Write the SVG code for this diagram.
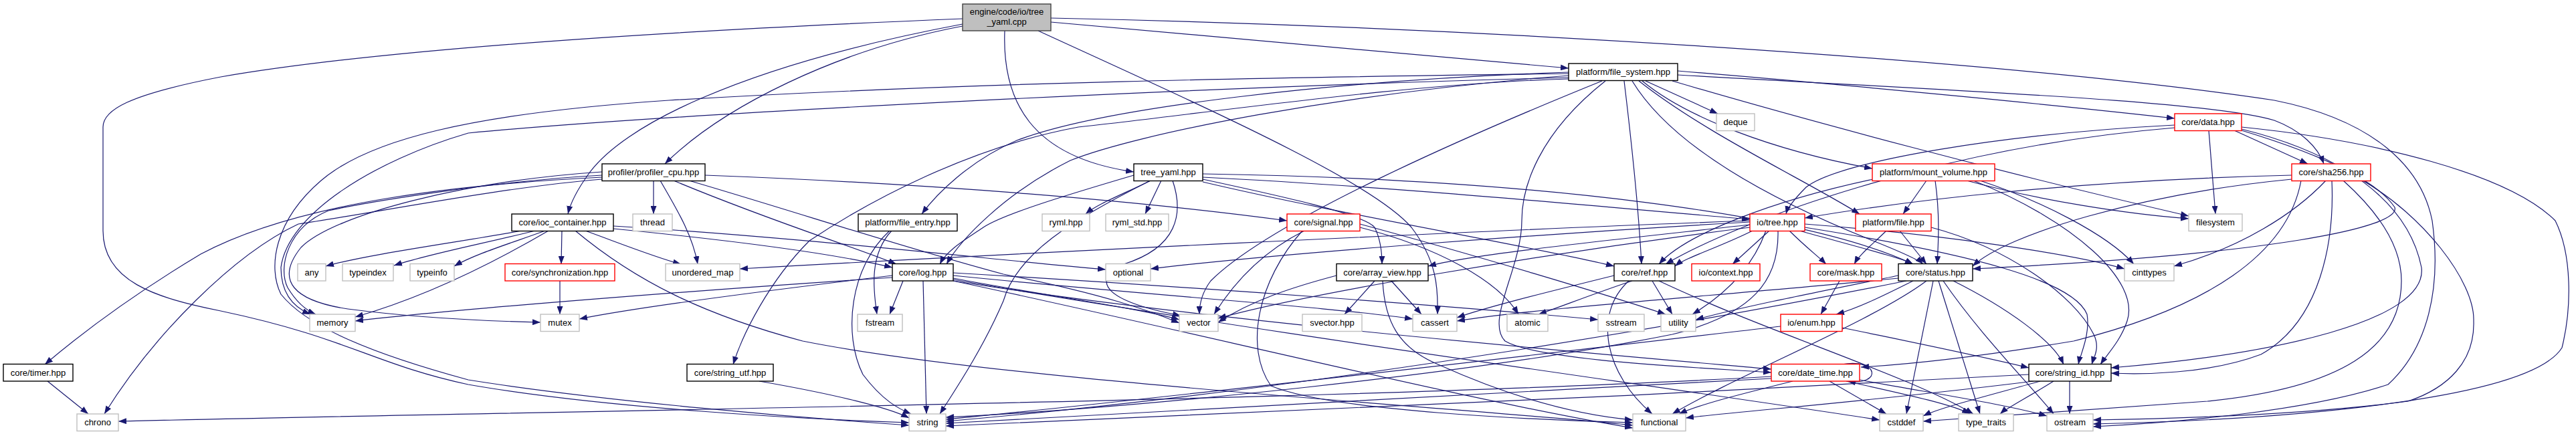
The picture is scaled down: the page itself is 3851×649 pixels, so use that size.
<svg xmlns="http://www.w3.org/2000/svg" width="3851" height="649" viewBox="0 0 3851 649">
<defs>
<marker id="ah" markerWidth="12" markerHeight="9" refX="12" refY="4.5" orient="auto" markerUnits="userSpaceOnUse"><path d="M0,0 L12,4.5 L0,9 z" fill="#191970"/></marker>
</defs>
<style>
rect.k{fill:#fff;stroke:#000;stroke-width:1.4}
rect.g{fill:#fff;stroke:#bfbfbf;stroke-width:1.4}
rect.r{fill:#fff;stroke:#ff0000;stroke-width:1.4}
rect.m{fill:#bfbfbf;stroke:#404040;stroke-width:1.4}
text{font-family:"Liberation Sans",Arial,Helvetica,sans-serif;font-size:13px;fill:#000;text-anchor:middle}
#edges path{fill:none;stroke:#191970;stroke-width:1.2;marker-end:url(#ah)}
</style>
<rect width="3851" height="649" fill="#fff"/>
<g id="edges">
<path d="M1439,28 C1100,42 600,68 330,115 C190,142 154,165 154,190 L154,345 C154,420 230,445 330,465 C520,505 560,545 700,575 C900,610 1200,627 1359,632"/>
<path d="M1571,33 L2345,102"/>
<path d="M1502,46 C1498,150 1540,235 1695,257"/>
<path d="M1439,39 C1250,75 1080,160 994,245"/>
<path d="M1439,36 C1100,100 930,190 880,260 C862,285 853,303 849,320"/>
<path d="M1552,46 C1800,160 2050,270 2110,340 C2148,390 2150,430 2149,470"/>
<path d="M1571,27 C2200,40 3000,90 3400,150 C3550,180 3620,250 3636,330 C3650,430 3630,520 3570,575 C3450,615 3250,632 3129,638"/>
<path d="M2460,121 L2568,170"/>
<path d="M2508,106 C2800,130 3100,160 3251,177"/>
<path d="M2508,112 C2900,135 3300,150 3400,180 C3440,195 3465,220 3474,245"/>
<path d="M2455,121 C2520,175 2650,225 2799,252"/>
<path d="M2450,121 C2550,200 2700,270 2780,320"/>
<path d="M2500,121 C2700,180 3000,260 3272,323"/>
<path d="M2428,121 C2440,220 2450,320 2454,395"/>
<path d="M2345,108 C2000,120 1650,160 1520,210 C1450,240 1400,290 1378,320"/>
<path d="M2345,113 C2000,140 1700,200 1600,240 C1500,290 1435,360 1415,395"/>
<path d="M2345,110 C2000,115 1500,120 1000,150 C700,170 550,210 480,270 C410,330 400,400 420,440 C460,490 560,530 700,568 C900,600 1200,625 1359,636"/>
<path d="M2345,116 C1800,130 1000,170 700,199 C560,240 430,320 420,400 C420,440 440,460 464,470"/>
<path d="M2345,118 C2100,125 1800,170 1612,190 C1450,220 1300,300 1210,360 C1150,420 1110,500 1096,545"/>
<path d="M2395,121 C2200,200 1900,330 1810,420 C1795,440 1793,460 1793,470"/>
<path d="M2400,121 C2300,200 2275,280 2275,330 C2275,400 2220,480 2250,510 C2300,540 2550,550 2648,557"/>
<path d="M2440,121 C2500,220 2650,300 2800,360 C2850,380 2870,390 2875,395"/>
<path d="M900,265 C700,275 450,300 300,380 C200,440 120,500 67,545"/>
<path d="M900,268 C750,280 550,320 446,335 C350,380 230,500 156,619"/>
<path d="M900,262 C750,270 560,300 491,315 C430,340 415,400 430,430 C445,455 460,465 472,470"/>
<path d="M900,257 C700,270 500,320 450,370 C410,420 440,450 520,462 C620,475 720,480 808,482"/>
<path d="M977,270 L977,320"/>
<path d="M987,270 C1010,310 1035,350 1043,395"/>
<path d="M1007,270 C1150,330 1280,370 1340,395"/>
<path d="M1054,262 C1400,275 1700,300 1924,330"/>
<path d="M1030,270 C1200,320 1350,370 1500,410 C1650,440 1720,465 1763,483"/>
<path d="M780,345 C700,360 550,380 487,398"/>
<path d="M800,345 C720,365 640,380 589,397"/>
<path d="M815,345 C760,365 710,380 679,398"/>
<path d="M820,345 C760,380 650,440 531,474"/>
<path d="M840,345 L839,395"/>
<path d="M875,345 C930,365 980,385 1018,395"/>
<path d="M917,342 C1100,360 1250,380 1334,400"/>
<path d="M860,345 C950,420 1050,470 1200,510 C1500,570 2200,610 2441,636"/>
<path d="M917,338 C1200,355 1500,390 1653,403"/>
<path d="M1720,270 C1680,290 1640,305 1623,320"/>
<path d="M1736,270 L1712,320"/>
<path d="M1753,270 C1770,320 1760,370 1680,395 C1630,420 1650,450 1765,472"/>
<path d="M1720,270 C1600,330 1520,380 1500,450 C1470,520 1430,580 1405,619"/>
<path d="M1695,262 C1600,290 1500,320 1470,340 C1440,360 1415,375 1405,395"/>
<path d="M1798,265 C2100,280 2400,310 2616,328"/>
<path d="M1798,268 C1900,290 2040,320 2055,340 C2065,360 2066,380 2066,395"/>
<path d="M1798,272 C2000,320 2300,370 2413,398"/>
<path d="M1798,260 C2300,268 2700,320 2860,395"/>
<path d="M1950,345 C1880,380 1840,430 1815,470"/>
<path d="M1947,345 C1880,420 1860,520 1900,577 C1990,615 2300,628 2441,632"/>
<path d="M2033,340 C2150,370 2240,420 2270,470"/>
<path d="M2033,335 C2200,380 2400,440 2490,470"/>
<path d="M2645,345 L2590,395"/>
<path d="M2675,345 C2700,370 2720,385 2730,395"/>
<path d="M2690,345 C2780,370 2840,385 2860,395"/>
<path d="M2620,345 C2570,370 2520,385 2504,398"/>
<path d="M2616,336 C2400,360 2200,380 2135,398"/>
<path d="M2616,332 C2300,350 1900,380 1720,402"/>
<path d="M2616,330 C2200,345 1500,380 1106,402"/>
<path d="M2616,340 C2300,380 1950,440 1821,476"/>
<path d="M2658,345 C2660,420 2620,470 2500,500 C2200,560 1700,610 1414,624"/>
<path d="M2698,335 C2900,350 3100,380 3176,402"/>
<path d="M2640,345 C2620,400 2580,440 2530,470"/>
<path d="M2698,340 C2950,380 3100,420 3120,470 C3125,500 3110,530 3107,545"/>
<path d="M2820,345 C2800,365 2780,380 2772,395"/>
<path d="M2840,345 L2880,395"/>
<path d="M2887,340 C3000,370 3100,440 3130,500 C3140,520 3130,535 3127,545"/>
<path d="M2880,270 L2845,320"/>
<path d="M2893,270 C2900,320 2898,360 2896,395"/>
<path d="M2940,270 C3050,300 3180,320 3272,327"/>
<path d="M2960,270 C3050,300 3150,350 3190,395"/>
<path d="M2800,268 C2650,300 2520,350 2480,395"/>
<path d="M2950,270 C3100,330 3200,420 3180,480 C3170,510 3150,530 3140,545"/>
<path d="M3302,195 L3312,320"/>
<path d="M3340,195 L3450,245"/>
<path d="M3251,187 C3000,200 2750,240 2700,280 C2680,300 2672,312 2670,320"/>
<path d="M3251,191 C2900,220 2600,330 2490,395"/>
<path d="M3351,190 C3550,210 3750,260 3820,330 C3845,380 3845,460 3830,520 C3780,600 3400,628 3129,634"/>
<path d="M3351,195 C3500,240 3560,280 3580,310 C3590,340 3400,380 2949,402"/>
<path d="M3351,193 C3500,230 3600,300 3620,400 C3630,480 3400,530 3156,550"/>
<path d="M3426,262 C3100,270 2850,300 2698,326"/>
<path d="M3477,270 C3430,320 3350,370 3250,398"/>
<path d="M3486,270 C3490,360 3470,480 3380,530 C3300,560 3200,560 3156,558"/>
<path d="M3503,270 C3570,330 3590,380 3590,420 C3590,520 3500,580 3300,600 C3100,615 2950,625 2875,630"/>
<path d="M3532,270 C3620,320 3700,420 3698,480 C3700,540 3660,580 3600,600 C3450,620 3250,626 3129,628"/>
<path d="M3426,268 C3200,290 3000,350 2949,398"/>
<path d="M3440,270 C3420,380 3300,460 3100,510 C2950,535 2850,545 2782,549"/>
<path d="M2860,420 C2820,440 2780,460 2745,470"/>
<path d="M2920,420 C3000,460 3070,510 3085,545"/>
<path d="M2890,420 L2850,619"/>
<path d="M2898,420 L2960,619"/>
<path d="M2905,420 C2960,500 3030,570 3070,619"/>
<path d="M2880,420 C2800,480 2600,560 2500,619"/>
<path d="M2850,420 C2600,470 2000,580 1414,630"/>
<path d="M2838,412 C2700,440 2600,460 2535,478"/>
<path d="M2838,416 C2600,440 2300,460 2178,480"/>
<path d="M2750,420 L2722,470"/>
<path d="M2754,490 C2850,510 2950,530 3033,550"/>
<path d="M2662,488 C2300,530 1700,600 1414,627"/>
<path d="M2440,420 C2380,440 2330,460 2300,470"/>
<path d="M2413,412 C2300,440 2220,460 2178,475"/>
<path d="M2470,420 L2500,470"/>
<path d="M2435,420 C2380,470 2400,560 2470,619"/>
<path d="M2480,420 C2650,500 2850,560 2950,619"/>
<path d="M2055,420 L2010,470"/>
<path d="M2080,420 L2125,470"/>
<path d="M1998,412 C1930,430 1870,450 1821,482"/>
<path d="M2067,420 C2070,480 2090,520 2150,545 C2250,590 2350,620 2441,628"/>
<path d="M1334,415 C1100,430 700,460 531,480"/>
<path d="M1334,412 C1100,440 950,460 866,477"/>
<path d="M1350,420 L1330,470"/>
<path d="M1380,420 L1385,619"/>
<path d="M1425,416 C1550,440 1700,460 1763,478"/>
<path d="M1425,420 C1800,480 2400,530 2648,552"/>
<path d="M1425,408 C1800,430 2200,460 2389,478"/>
<path d="M1425,412 C1700,440 2000,460 2112,477"/>
<path d="M1425,420 C1800,500 2200,600 2441,640"/>
<path d="M1425,418 C1900,500 2500,580 2810,628"/>
<path d="M1333,345 C1300,380 1305,430 1311,470"/>
<path d="M1330,345 C1270,400 1260,500 1290,560 C1320,600 1345,612 1362,619"/>
<path d="M1135,570 C1250,590 1330,610 1359,625"/>
<path d="M71,570 L132,619"/>
<path d="M837,420 L837,470"/>
<path d="M2648,563 C2000,600 800,615 177,630"/>
<path d="M2648,566 C2200,590 1700,615 1414,633"/>
<path d="M2680,570 C2600,590 2540,605 2510,619"/>
<path d="M2735,570 L2820,619"/>
<path d="M2760,570 C2850,590 2920,605 2945,619"/>
<path d="M2780,568 C2900,590 3000,605 3060,622"/>
<path d="M2753,545 C2812,535 2812,578 2762,570"/>
<path d="M3033,560 C2500,590 1800,622 1414,637"/>
<path d="M3040,570 C2800,600 2600,615 2520,625"/>
<path d="M3050,570 C2960,595 2900,610 2875,622"/>
<path d="M3070,570 C3030,595 3000,610 2990,619"/>
<path d="M3094,570 L3094,619"/>
</g>
<g id="n_cpp"><rect class="m" x="1439" y="6" width="132" height="40"/><text x="1505" y="22">engine/code/io/tree</text><text x="1505" y="37">_yaml.cpp</text></g>
<g id="n_fs"><rect class="k" x="2345" y="95" width="163" height="25.5"/><text x="2426.5" y="112.3">platform/file_system.hpp</text></g>
<g id="n_deque"><rect class="g" x="2566" y="170" width="57" height="25.5"/><text x="2594.5" y="187.3">deque</text></g>
<g id="n_data"><rect class="r" x="3251" y="170" width="100" height="25.5"/><text x="3301" y="187.3">core/data.hpp</text></g>
<g id="n_prof"><rect class="k" x="900" y="245" width="154" height="25.5"/><text x="977" y="262.3">profiler/profiler_cpu.hpp</text></g>
<g id="n_tyh"><rect class="k" x="1695" y="245" width="103" height="25.5"/><text x="1746.5" y="262.3">tree_yaml.hpp</text></g>
<g id="n_mv"><rect class="r" x="2799" y="245" width="183" height="25.5"/><text x="2890.5" y="262.3">platform/mount_volume.hpp</text></g>
<g id="n_sha"><rect class="r" x="3426" y="245" width="118" height="25.5"/><text x="3485" y="262.3">core/sha256.hpp</text></g>
<g id="n_ioc"><rect class="k" x="765" y="320" width="152" height="25.5"/><text x="841" y="337.3">core/ioc_container.hpp</text></g>
<g id="n_thread"><rect class="g" x="946" y="320" width="59" height="25.5"/><text x="975.5" y="337.3">thread</text></g>
<g id="n_fe"><rect class="k" x="1283" y="320" width="148" height="25.5"/><text x="1357" y="337.3">platform/file_entry.hpp</text></g>
<g id="n_ryml"><rect class="g" x="1558" y="320" width="71" height="25.5"/><text x="1593.5" y="337.3">ryml.hpp</text></g>
<g id="n_rymlstd"><rect class="g" x="1653" y="320" width="94" height="25.5"/><text x="1700" y="337.3">ryml_std.hpp</text></g>
<g id="n_sig"><rect class="r" x="1924" y="320" width="109" height="25.5"/><text x="1978.5" y="337.3">core/signal.hpp</text></g>
<g id="n_tree"><rect class="r" x="2616" y="320" width="82" height="25.5"/><text x="2657" y="337.3">io/tree.hpp</text></g>
<g id="n_file"><rect class="r" x="2774" y="320" width="113" height="25.5"/><text x="2830.5" y="337.3">platform/file.hpp</text></g>
<g id="n_fsys"><rect class="g" x="3272" y="320" width="80" height="25.5"/><text x="3312" y="337.3">filesystem</text></g>
<g id="n_any"><rect class="g" x="445" y="394.5" width="42" height="25.5"/><text x="466" y="411.8">any</text></g>
<g id="n_typeindex"><rect class="g" x="512" y="394.5" width="76" height="25.5"/><text x="550" y="411.8">typeindex</text></g>
<g id="n_typeinfo"><rect class="g" x="613" y="394.5" width="66" height="25.5"/><text x="646" y="411.8">typeinfo</text></g>
<g id="n_sync"><rect class="r" x="755" y="394.5" width="164" height="25.5"/><text x="837" y="411.8">core/synchronization.hpp</text></g>
<g id="n_umap"><rect class="g" x="995" y="394.5" width="111" height="25.5"/><text x="1050.5" y="411.8">unordered_map</text></g>
<g id="n_log"><rect class="k" x="1334" y="394.5" width="91" height="25.5"/><text x="1379.5" y="411.8">core/log.hpp</text></g>
<g id="n_optional"><rect class="g" x="1653" y="394.5" width="67" height="25.5"/><text x="1686.5" y="411.8">optional</text></g>
<g id="n_av"><rect class="k" x="1998" y="394.5" width="137" height="25.5"/><text x="2066.5" y="411.8">core/array_view.hpp</text></g>
<g id="n_ref"><rect class="k" x="2413" y="394.5" width="91" height="25.5"/><text x="2458.5" y="411.8">core/ref.hpp</text></g>
<g id="n_ctx"><rect class="r" x="2529" y="394.5" width="102" height="25.5"/><text x="2580" y="411.8">io/context.hpp</text></g>
<g id="n_mask"><rect class="r" x="2706" y="394.5" width="107" height="25.5"/><text x="2759.5" y="411.8">core/mask.hpp</text></g>
<g id="n_status"><rect class="k" x="2838" y="394.5" width="111" height="25.5"/><text x="2893.5" y="411.8">core/status.hpp</text></g>
<g id="n_cinttypes"><rect class="g" x="3176" y="394.5" width="74" height="25.5"/><text x="3213" y="411.8">cinttypes</text></g>
<g id="n_memory"><rect class="g" x="463" y="470" width="68" height="25.5"/><text x="497" y="487.3">memory</text></g>
<g id="n_mutex"><rect class="g" x="808" y="470" width="58" height="25.5"/><text x="837" y="487.3">mutex</text></g>
<g id="n_fstream"><rect class="g" x="1282" y="470" width="67" height="25.5"/><text x="1315.5" y="487.3">fstream</text></g>
<g id="n_vector"><rect class="g" x="1763" y="470" width="58" height="25.5"/><text x="1792" y="487.3">vector</text></g>
<g id="n_svector"><rect class="g" x="1947" y="470" width="89" height="25.5"/><text x="1991.5" y="487.3">svector.hpp</text></g>
<g id="n_cassert"><rect class="g" x="2112" y="470" width="66" height="25.5"/><text x="2145" y="487.3">cassert</text></g>
<g id="n_atomic"><rect class="g" x="2253" y="470" width="61" height="25.5"/><text x="2283.5" y="487.3">atomic</text></g>
<g id="n_sstream"><rect class="g" x="2389" y="470" width="69" height="25.5"/><text x="2423.5" y="487.3">sstream</text></g>
<g id="n_utility"><rect class="g" x="2483" y="470" width="52" height="25.5"/><text x="2509" y="487.3">utility</text></g>
<g id="n_enum"><rect class="r" x="2662" y="470" width="92" height="25.5"/><text x="2708" y="487.3">io/enum.hpp</text></g>
<g id="n_timer"><rect class="k" x="5" y="544.5" width="104" height="25.5"/><text x="57" y="561.8">core/timer.hpp</text></g>
<g id="n_sutf"><rect class="k" x="1027" y="544.5" width="129" height="25.5"/><text x="1091.5" y="561.8">core/string_utf.hpp</text></g>
<g id="n_dt"><rect class="r" x="2648" y="544.5" width="132" height="25.5"/><text x="2714" y="561.8">core/date_time.hpp</text></g>
<g id="n_sid"><rect class="k" x="3033" y="544.5" width="123" height="25.5"/><text x="3094.5" y="561.8">core/string_id.hpp</text></g>
<g id="n_chrono"><rect class="g" x="115" y="619" width="62" height="25.5"/><text x="146" y="636.3">chrono</text></g>
<g id="n_string"><rect class="g" x="1359" y="619" width="55" height="25.5"/><text x="1386.5" y="636.3">string</text></g>
<g id="n_functional"><rect class="g" x="2441" y="619" width="79" height="25.5"/><text x="2480.5" y="636.3">functional</text></g>
<g id="n_cstddef"><rect class="g" x="2810" y="619" width="65" height="25.5"/><text x="2842.5" y="636.3">cstddef</text></g>
<g id="n_type_traits"><rect class="g" x="2928" y="619" width="82" height="25.5"/><text x="2969" y="636.3">type_traits</text></g>
<g id="n_ostream"><rect class="g" x="3060" y="619" width="69" height="25.5"/><text x="3094.5" y="636.3">ostream</text></g>
</svg>
